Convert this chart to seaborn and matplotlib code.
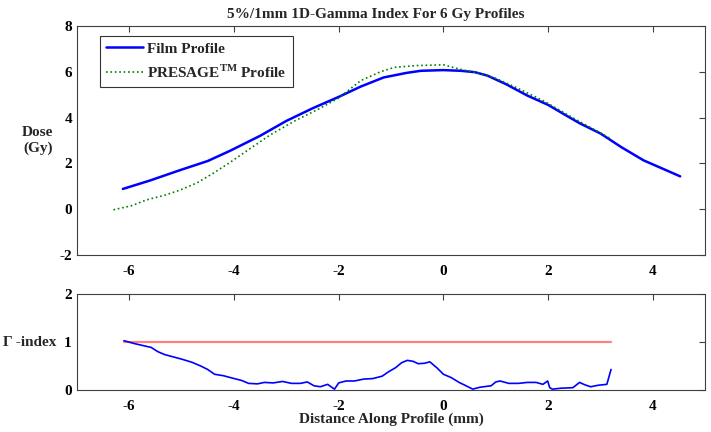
import numpy as np
import pandas as pd
import seaborn as sns
import matplotlib.pyplot as plt

# Film profile (distance mm, dose Gy)
film_x = [-6.12, -5.6, -5.03, -4.5, -4.07, -3.5, -3.0, -2.5, -2.0, -1.58, -1.14, -0.7,
          -0.43, 0.0, 0.33, 0.6, 0.84, 1.2, 1.6, 2.0, 2.29, 2.6, 3.0, 3.4, 3.82, 4.2, 4.52]
film_y = [0.88, 1.25, 1.7, 2.1, 2.55, 3.2, 3.85, 4.4, 4.9, 5.35, 5.75, 5.95,
          6.04, 6.07, 6.04, 5.98, 5.83, 5.45, 4.96, 4.55, 4.16, 3.75, 3.3, 2.7, 2.13, 1.75, 1.43]

# PRESAGE profile
pres_x = [-6.3, -5.95, -5.67, -5.3, -5.03, -4.7, -4.4, -4.1, -3.75, -3.3, -2.84, -2.4, -2.0,
          -1.58, -1.2, -0.94, -0.5, 0.0, 0.33, 0.6, 0.96, 1.4, 1.9, 2.5, 3.19]
pres_y = [-0.03, 0.15, 0.4, 0.62, 0.83, 1.15, 1.56, 2.0, 2.55, 3.25, 3.85, 4.35, 4.85,
          5.61, 6.0, 6.19, 6.27, 6.3, 6.1, 5.98, 5.75, 5.3, 4.74, 3.95, 3.08]

# Gamma index
gam_x = [-6.1, -5.9, -5.7, -5.58, -5.45, -5.32, -5.15, -4.98, -4.8, -4.63, -4.5, -4.37,
         -4.2, -4.03, -3.85, -3.72, -3.55, -3.42, -3.25, -3.07, -2.9, -2.73, -2.6, -2.47,
         -2.35, -2.21, -2.12, -2.08, -2.0, -1.86, -1.7, -1.52, -1.35, -1.17, -1.05, -0.91,
         -0.8, -0.69, -0.58, -0.48, -0.36, -0.26, -0.12, 0.0, 0.15, 0.3, 0.45, 0.56,
         0.7, 0.91, 1.0, 1.08, 1.25, 1.43, 1.6, 1.77, 1.9, 1.99, 2.03, 2.08, 2.25, 2.47,
         2.6, 2.7, 2.81, 2.95, 3.12, 3.2]
gam_y = [1.03, 0.97, 0.92, 0.89, 0.8, 0.74, 0.69, 0.64, 0.58, 0.5, 0.43, 0.33,
         0.3, 0.25, 0.2, 0.14, 0.13, 0.16, 0.15, 0.18, 0.14, 0.14, 0.17, 0.09,
         0.07, 0.12, 0.05, 0.02, 0.15, 0.19, 0.19, 0.23, 0.24, 0.29, 0.38, 0.47,
         0.57, 0.62, 0.6, 0.55, 0.56, 0.59, 0.46, 0.33, 0.26, 0.16, 0.08, 0.02,
         0.06, 0.09, 0.17, 0.19, 0.14, 0.14, 0.16, 0.16, 0.12, 0.19, 0.05, 0.02, 0.04, 0.05,
         0.16, 0.11, 0.07, 0.1, 0.12, 0.43]

limit_x = [-6.1, 3.2]
limit_y = [1.0, 1.0]

sns.set_style("white")
plt.rcParams['font.family'] = ['Liberation Serif', 'DejaVu Serif']
plt.rcParams['font.weight'] = 'bold'
plt.rcParams['mathtext.fontset'] = 'custom'
plt.rcParams['mathtext.rm'] = 'Liberation Serif:bold'
plt.rcParams['mathtext.bf'] = 'Liberation Serif:bold'
plt.rcParams['axes.unicode_minus'] = False
plt.rcParams['xtick.direction'] = 'in'
plt.rcParams['ytick.direction'] = 'in'

fig = plt.figure(figsize=(7.11, 4.32), dpi=100)
ax1 = fig.add_axes([0.108, 0.410, 0.884, 0.530])
ax2 = fig.add_axes([0.108, 0.097, 0.884, 0.222])

df_film = pd.DataFrame({'x': film_x, 'y': film_y})
df_pres = pd.DataFrame({'x': pres_x, 'y': pres_y})
sns.lineplot(data=df_film, x='x', y='y', ax=ax1, color='#0000ff', lw=1.8,
             label='Film Profile', sort=False)
sns.lineplot(data=df_pres, x='x', y='y', ax=ax1, color='#008000', lw=1.2,
             linestyle=':', label='PRESAGE$^{\\mathbf{TM}}$ Profile', sort=False)

df_gam = pd.DataFrame({'x': gam_x, 'y': gam_y})
sns.lineplot(x=limit_x, y=limit_y, ax=ax2, color='#ff8080', lw=1.6)
sns.lineplot(data=df_gam, x='x', y='y', ax=ax2, color='#0000ff', lw=1.2, sort=False)

for ax in (ax1, ax2):
    ax.set_xlim(-7, 5)
    ax.set_xticks([-6, -4, -2, 0, 2, 4])
    ax.tick_params(top=True, right=True, labelsize=11, length=4, width=0.8, colors='#404040',
                   labelcolor='black')
    ax.tick_params(axis='x', pad=7)
    for s in ax.spines.values():
        s.set_color('#404040')
        s.set_linewidth(0.8)
    for lab in ax.get_xticklabels() + ax.get_yticklabels():
        lab.set_fontweight('bold')

ax1.set_ylim(-2, 8)
ax1.set_yticks([-2, 0, 2, 4, 6, 8])
ax1.set_xlabel('')
ax1.set_ylabel('Dose\n(Gy)', rotation=0, fontsize=11, fontweight='bold',
               va='center', ha='center')
ax1.yaxis.set_label_coords(-0.062, 0.5)
ax1.set_title('5%/1mm 1D-Gamma Index For 6 Gy Profiles', fontsize=11, fontweight='bold',
              pad=6, x=0.475)
leg = ax1.legend(loc='upper left', bbox_to_anchor=(0.037, 0.956), borderaxespad=0,
                 fontsize=11, frameon=True, fancybox=False, edgecolor='black',
                 handlelength=2.4, handletextpad=0.3, borderpad=0.4, labelspacing=0.5)
leg.get_frame().set_linewidth(0.8)
for t in leg.get_texts():
    t.set_fontweight('bold')

ax2.set_ylim(0, 2)
ax2.set_yticks([0, 1, 2])
ax2.set_xlabel('Distance Along Profile (mm)', fontsize=11, fontweight='bold', labelpad=0)
ax2.set_ylabel('Γ -index', rotation=0, fontsize=11, fontweight='bold',
               va='center', ha='right')
ax2.yaxis.set_label_coords(-0.032, 0.5)

fig.savefig('out.png', dpi=100)
